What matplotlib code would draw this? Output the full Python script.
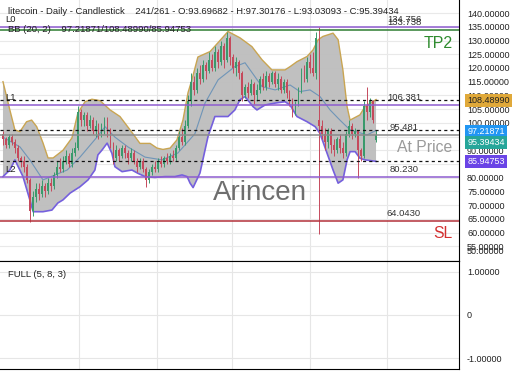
import numpy as np
import matplotlib
matplotlib.use("Agg")
import matplotlib.pyplot as plt
import matplotlib.transforms as mtransforms

plt.rcParams['font.family'] = ['Liberation Sans', 'DejaVu Sans']

# candles (daily, litecoin)
opens = [96, 94, 92, 95, 93, 91, 87, 86, 84, 79,
         68, 73, 76, 74, 77, 75, 78, 77, 81, 84,
         83, 86, 88, 85, 89, 91, 104, 101, 103, 99,
         101, 97, 99, 96, 98, 101, 97, 92, 87, 90,
         88, 91, 89, 87, 89, 86, 84, 86, 83, 79,
         82, 84, 83, 86, 85, 87, 86, 88, 87, 91,
         95, 93, 99, 108, 115, 112, 118, 116, 121, 119,
         123, 120, 126, 122, 128, 123, 131, 124, 120, 122,
         118, 110, 113, 111, 114, 110, 112, 116, 113, 117,
         115, 118, 114, 116, 112, 115, 111, 108, 104, 107,
         112, 118, 116, 122, 120, 118, 101, 99, 96, 93,
         97, 92, 90, 94, 91, 89, 96, 99, 96, 97,
         90, 88, 106, 104, 108, 93.69682]
closes = [94, 92, 95, 93, 91, 87, 86, 84, 79, 68,
          73, 76, 74, 77, 75, 78, 77, 81, 84, 83,
          86, 88, 85, 89, 91, 104, 101, 103, 99, 101,
          97, 99, 96, 98, 101, 97, 92, 87, 90, 88,
          91, 89, 87, 89, 86, 84, 86, 83, 79, 82,
          84, 83, 86, 85, 87, 86, 88, 87, 91, 95,
          93, 99, 108, 115, 112, 118, 116, 121, 119, 123,
          120, 126, 122, 128, 123, 131, 124, 120, 122, 118,
          110, 113, 111, 114, 110, 112, 116, 113, 117, 115,
          118, 114, 116, 112, 115, 111, 108, 104, 107, 112,
          118, 116, 122, 120, 118, 131, 99, 96, 93, 97,
          92, 90, 94, 91, 89, 96, 99, 96, 97, 90,
          88, 106, 104, 108, 101, 95.39434]
highs = [97, 95, 96, 96, 94, 92, 88, 88, 85, 80,
         75, 78, 78, 79, 78, 80, 80, 82, 86, 87,
         88, 90, 89, 91, 93, 106, 105, 104, 104, 103,
         102, 101, 100, 100, 102, 102, 98, 93, 92, 91,
         92, 92, 90, 91, 90, 87, 87, 87, 84, 83,
         85, 86, 87, 88, 88, 89, 89, 90, 92, 97,
         98, 101, 110, 118, 117, 120, 121, 123, 122, 126,
         125, 128, 127, 130, 129, 133, 131.5, 125, 124, 123,
         119, 114, 115, 116, 115, 114, 117, 118, 119, 118,
         119, 119, 118, 117, 116, 116, 112, 109, 108, 113,
         120, 121, 124, 125, 126, 133, 135, 101, 98, 98,
         98, 94, 95, 96, 93, 97, 101, 100, 98, 97.5,
         91, 108, 113, 109, 108.5, 97.30176]
lows = [92, 91, 91, 92, 89, 86, 84, 82, 78, 64,
        66, 71, 72, 73, 73, 74, 75, 76, 80, 82,
        82, 85, 84, 84, 88, 90, 99, 99, 97, 98,
        96, 95, 94, 95, 96, 95, 91, 85, 86, 86,
        87, 87, 85, 86, 85, 82, 83, 82, 76.5, 78,
        81, 82, 82, 84, 84, 85, 85, 86, 86, 90,
        92, 92, 98, 106, 110, 111, 114, 115, 116, 118,
        119, 119, 120, 121, 120, 122, 121, 118, 117, 116,
        108, 109, 109, 110, 107, 108, 111, 112, 112, 113,
        114, 113, 112, 111, 111, 109, 106, 102, 103, 106,
        111, 115, 115, 118, 117, 116, 59.5, 94, 90, 91,
        89, 88, 89, 89, 87, 88, 95, 94, 95, 80,
        86, 87, 101, 102, 100, 93.03093]

# Bollinger (20, 2) envelope, traced at bar positions
upper_x = [0, 2.3, 4.0, 5.7, 7.9, 9.6, 11.3, 13.4, 15.1, 16.8,
           20.1, 23.1, 25.1, 27.5, 29.8, 32.5, 35.9, 39.2, 42.6, 45.9,
           49.3, 51.6, 53.6, 56.0, 58.3, 60.3, 62.0, 63.3, 65.3, 69.4,
           72.7, 75.4, 79.4, 83.4, 86.8, 90.1, 94.5, 96.2, 98.5, 101.9,
           103.9, 105.6, 107.2, 110.6, 112.3, 113.9, 115.3, 116.3, 119.6, 121.3,
           125]
upper = [115, 104.7, 97.4, 96.8, 100.4, 101, 98.6, 92.7, 87.2, 87.2,
         90, 94.5, 103.6, 107.7, 108.6, 108.1, 104.7, 102.3, 97.4, 92.5,
         92.5, 90.8, 90.3, 90.8, 93.8, 101, 111, 115.7, 124, 126,
         130, 133.3, 131, 127.8, 123, 119.3, 119.3, 120.5, 122.3, 124.2,
         126.6, 130.3, 131.5, 132.7, 130.3, 119.3, 105.9, 101, 102.9, 105.9,
         108.4899]
lower_x = [0, 2.3, 4.0, 6.7, 9.0, 10.1, 13.4, 16.4, 18.4, 20.1,
           22.5, 25.8, 28.5, 30.8, 31.8, 33.2, 34.9, 36.5, 37.5, 39.9,
           43.2, 45.2, 47.6, 50.9, 54.3, 57.6, 60.0, 61.7, 62.7, 63.7,
           66.0, 68.7, 71.0, 75.4, 77.7, 79.4, 81.1, 83.8, 85.1, 87.8,
           91.2, 94.5, 96.2, 98.5, 101.9, 104.6, 106.2, 108.6, 110.6, 112.3,
           113.9, 115.3, 116.3, 118.0, 119.6, 121.3, 125]
lower = [80.4, 82.8, 86.5, 80.4, 71.9, 67.6, 67.6, 68.2, 70.8, 71.9,
         74.4, 76.7, 79.2, 82.8, 88.3, 90.1, 92.6, 88.9, 84, 82.2,
         82.8, 81.6, 80.4, 80.1, 80.4, 80.4, 81, 80.4, 78, 76.4,
         81.7, 95, 102.3, 102.3, 104.7, 108.4, 109.6, 105.9, 104.7, 106.5,
         107.2, 107.7, 106.5, 102.3, 100.4, 98.6, 96.2, 88.9, 82.8, 78,
         79.2, 86.5, 89.5, 89.5, 87.1, 86.5, 85.94753]
mid_x = [0, 5.7, 9.0, 13.4, 21.5, 25.8, 31.5, 34.2, 37.5, 41.9,
         47.6, 53.3, 58.6, 64.3, 67.7, 72.1, 77.7, 81.1, 86.8, 91.2,
         96.2, 99.5, 102.9, 106.2, 109.6, 112.9, 116.3, 122.0, 125]
mid = [94.8, 91.2, 86.5, 79.2, 82.8, 87.5, 94.8, 98.6, 94.8, 91.2,
       87.5, 86.5, 89, 96, 107.2, 115.7, 120.5, 121.9, 113.2, 112,
       113.8, 111.4, 112, 109.6, 104.7, 101, 97.4, 95.6, 97.21871]

bb_last = [108.48990, 97.21871, 85.94753]

# drawn levels: (value, colour, label)
levels = [(134.756, '#8e5ccf', '134.756'),
          (133.738, '#2e7d32', '133.738'),
          (106.381, '#8e5ccf', '106.381'),
          (95.481, '#8a8a8a', '95.481'),
          (80.230, '#8e5ccf', '80.230'),
          (64.043, '#b3313a', '64.0430')]
side_tags = [('L0', 134.756), ('L1', 106.381), ('L2', 80.230)]

price_ticks = [55, 60, 65, 70, 75, 80, 85, 90, 95, 100, 105, 110,
               115, 120, 125, 130, 135, 140]

W, H = 520, 390
fig = plt.figure(figsize=(W / 100, H / 100), dpi=100)
ax = fig.add_axes([0, 1 - 260.7 / H, 459 / W, 260.7 / H])
ax2 = fig.add_axes([0, 1 - 369.3 / H, 459 / W, 108.6 / H])

grid_x = [25.5, 51.6, 76.7, 102.9, 128.7]
xlim = (-1.0, 152.8)

for a in (ax, ax2):
    a.set_xlim(*xlim)
    a.set_xticks([])
    a.yaxis.tick_right()
    a.tick_params(axis='y', length=0, pad=5.8, labelsize=6.5, labelcolor='#222222')
    a.spines['left'].set_visible(False)
    for v in grid_x:
        a.axvline(v, color='#e6e6e6', lw=0.8, zorder=0)

ax.spines['top'].set_visible(False)
ax.set_ylim(49.74, 144.78)
ax.set_yticks(price_ticks)
ax.set_yticklabels(['%.5f' % t for t in price_ticks])
for t in price_ticks:
    ax.axhline(t, color='#e9e9e9', lw=0.8, zorder=0)

# bands
ax.fill(np.r_[upper_x, lower_x[::-1]], np.r_[upper, lower[::-1]],
        color='#bdbdbd', alpha=0.95, lw=0, zorder=1)
ax.plot(upper_x, upper, color='#c9a552', lw=1.0, zorder=2)
ax.plot(lower_x, lower, color='#7560dd', lw=1.2, zorder=2)
ax.plot(mid_x, mid, color='#6f95b8', lw=0.8, zorder=2)

# candles
idx = np.arange(len(closes))
o = np.array(opens)
c = np.array(closes)
up = c >= o
cols = np.where(up, '#3a9a6c', '#c54a5c')
ax.vlines(idx, lows, highs, colors=cols, lw=0.7, zorder=3)
body = np.maximum(np.abs(c - o), 0.25)
ax.bar(idx, body, bottom=np.minimum(o, c), width=0.6, color=cols, lw=0, zorder=3)

# level lines
for v in bb_last:
    ax.axhline(v, color='#111111', lw=0.9, ls=(0, (2.5, 2.5)), zorder=4)
for v, col, lab in levels:
    ax.axhline(v, color=col, lw=1.1, zorder=4)
    ax.text(0.88, v + 1.2, lab, transform=mtransforms.blended_transform_factory(ax.transAxes, ax.transData),
            ha='center', va='bottom', fontsize=6.8, color='#333333', zorder=6)
for lab, v in side_tags:
    ax.text(0.012, v + 1.2, lab, transform=mtransforms.blended_transform_factory(ax.transAxes, ax.transData),
            ha='left', va='bottom', fontsize=6.8, color='#222222', zorder=6)

# coloured price tags on the axis
tags = [(108.48990, '108.48990', '#e0a93a', '#222222', 108.2),
        (97.21871, '97.21871', '#2196f3', 'white', 97.0),
        (95.39434, '95.39434', '#26a69a', 'white', 92.75),
        (85.94753, '85.94753', '#6a44e6', 'white', 85.8)]
tr = mtransforms.blended_transform_factory(ax.transAxes, ax.transData)
for val, lab, fc, tc, ypos in tags:
    ax.text(1.018, ypos, lab, transform=tr, ha='left', va='center', fontsize=6.5,
            color=tc, clip_on=False, zorder=10,
            bbox=dict(boxstyle='square,pad=0.2', fc=fc, ec='none'))

fig.text(467 / W, 1 - 252 / H, '50.00000', fontsize=6.5, color='#222222', va='center')

# labels
fig.text(8 / W, 1 - 12 / H,
         'litecoin - Daily - Candlestick    241/261 - O:93.69682 - H:97.30176 - L:93.03093 - C:95.39434',
         fontsize=6.8, color='#222222', va='center')
fig.text(8 / W, 1 - 29 / H, 'BB (20, 2)    97.21871/108.48990/85.94753',
         fontsize=6.8, color='#222222', va='center')
fig.text(438 / W, 1 - 44 / H, 'TP2', fontsize=11.5, color='#2e8b2e', ha='center', va='center')
fig.text(425 / W, 1 - 148 / H, 'At Price', fontsize=11.3, color='#9a9a9a', ha='center', va='center')
fig.text(443 / W, 1 - 234 / H, 'SL', fontsize=11.3, color='#d32f2f', ha='center', va='center')
fig.text(260 / W, 1 - 193 / H, 'Arincen', fontsize=20, color='#6e6e6e', ha='center', va='center')

# lower panel
ax2.set_ylim(-1.254, 1.254)
ax2.set_yticks([1, 0, -1])
ax2.set_yticklabels(['1.00000', '0', '-1.00000'])
for v in (1, 0, -1):
    ax2.axhline(v, color='#e6e6e6', lw=0.8, zorder=0)
ax2.text(8 / 459, 1 - 13.5 / 108.6, 'FULL (5, 8, 3)', transform=ax2.transAxes,
         fontsize=6.8, color='#222222', va='center')

fig.savefig('out.png', dpi=100)
